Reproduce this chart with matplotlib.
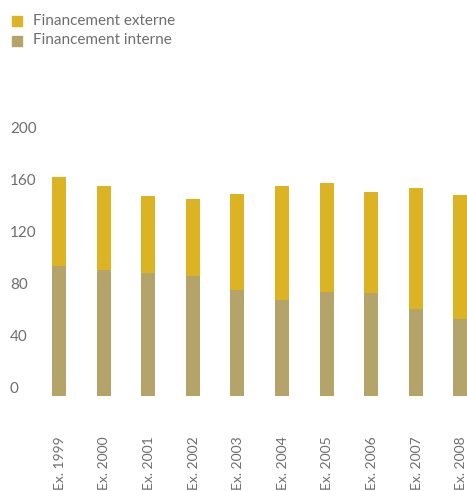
import matplotlib.pyplot as plt
import matplotlib.transforms as mtransforms
from matplotlib.patches import Rectangle

# Donnees
annees = ['Ex. 1999', 'Ex. 2000', 'Ex. 2001', 'Ex. 2002', 'Ex. 2003',
          'Ex. 2004', 'Ex. 2005', 'Ex. 2006', 'Ex. 2007', 'Ex. 2008']
interne = [100, 97, 94.6, 92.3, 81.5, 73.8, 80, 79.2, 66.9, 59.2]
total = [168.7, 161.5, 153.8, 151.5, 155.4, 161.5, 163.8, 156.9, 160, 154.6]
externe = [t - i for t, i in zip(total, interne)]
yticks = [0, 40, 80, 120, 160, 200]

col_ext = '#dcb322'
col_int = '#b5a46a'
col_txt = '#6e6e6e'

plt.rcParams['font.family'] = ['Lato', 'DejaVu Sans']

W, H = 467, 491
fig = plt.figure(figsize=(W / 100, H / 100), dpi=100)

# axes: pleine largeur, de y=120px a y=400px (depuis le haut)
ax = fig.add_axes([0, (H - 400) / H, 1, 280 / H])
x = list(range(len(annees)))
ax.bar(x, interne, width=0.31, color=col_int)
ax.bar(x, externe, bottom=interne, width=0.31, color=col_ext)

ax.set_xlim(-59 / 44.6, (467 - 59) / 44.6)
ax.set_ylim(-4 / 1.3, 276 / 1.3)
ax.axis('off')

# etiquettes de l'axe y (alignees a gauche)
tr_y = mtransforms.blended_transform_factory(fig.transFigure, ax.transData)
for v in yticks:
    fig.text(10 / W, v, str(v), transform=tr_y, ha='left', va='bottom',
             fontsize=11, color=col_txt)

# etiquettes de l'axe x (verticales)
tr_x = mtransforms.blended_transform_factory(ax.transData, fig.transFigure)
for i, a in enumerate(annees):
    fig.text(i + 0.02, 1 / H, a, transform=tr_x, rotation=90, ha='center',
             va='bottom', fontsize=10, color=col_txt)

# legende
leg = [('Financement externe', col_ext), ('Financement interne', col_int)]
for k, (nom, c) in enumerate(leg):
    yc = 21 + k * 19.5
    fig.add_artist(Rectangle((12 / W, 1 - (yc + 5) / H), 10 / W, 10 / H,
                             transform=fig.transFigure, color=c))
    fig.text(33 / W, 1 - yc / H, nom, ha='left', va='center',
             fontsize=11, color=col_txt)

fig.savefig('out.png', dpi=100)
